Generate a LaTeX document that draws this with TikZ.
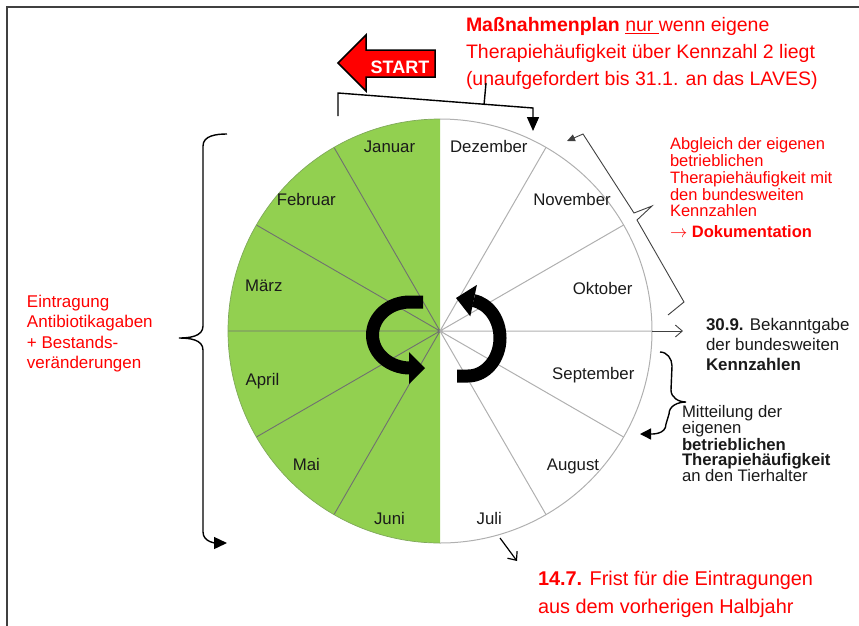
\documentclass[tikz,border=0pt]{standalone}
\usepackage{fontspec}
\setmainfont{Liberation Sans}
\usetikzlibrary{arrows.meta}

\definecolor{monthgreen}{HTML}{92D050}
\definecolor{edgegreen}{HTML}{7FA85A}
\definecolor{spokedark}{HTML}{707070}
\definecolor{spokelight}{HTML}{B0B0B0}
\definecolor{framegray}{HTML}{404040}
\definecolor{monthtext}{HTML}{1A1A1A}
\definecolor{labelred}{HTML}{FF0000}

\begin{document}
\begin{tikzpicture}[x=1pt, y=-1pt,
  every node/.style={inner sep=0pt, outer sep=0pt},
  month/.style={anchor=base, text=monthtext, font=\fontsize{16.8}{20}\selectfont},
  note/.style={anchor=base west, align=left},
  spokel/.style={draw=spokedark, line width=0.9pt},
  spoker/.style={draw=spokelight, line width=1pt},
  turn/.style={line width=13pt},
  bracket/.style={line width=1.4pt},
  thinbrace/.style={draw=framegray, line width=0.9pt},
  thinarrow/.style={draw=framegray, line width=0.9pt, -{Straight Barb[length=7pt,width=12pt]}}]
\useasboundingbox (0,0) rectangle (859,625);

% frame
\draw[framegray, line width=1.2pt] (7,640) -- (7,7) -- (870,7);

% year wheel
\coordinate (C) at (440,331);
\coordinate (rim) at (652,331);
\fill[monthgreen] (440,119) arc[start angle=-90, end angle=-270, radius=212] -- cycle;
\draw[spokel] (C) -- +(120:212) (C) -- +(150:212) (C) -- +(180:212) (C) -- +(210:212) (C) -- +(240:212);
\draw[spoker] (C) -- +(-60:212) (C) -- +(-30:212) (C) -- (rim) (C) -- +(30:212) (C) -- +(60:212);
\draw[edgegreen, line width=0.7pt] (440,119) arc[start angle=-90, end angle=-270, radius=212];
\draw[spoker] (440,119) arc[start angle=-90, end angle=90, radius=212];

\node[month] (jan) at (389.5,152.3) {Januar};
\node[month] (feb) at (306.3,205.3) {Februar};
\node[month] (mar) at (263.8,291) {März};
\node[month] (apr) at (262.5,385.7) {April};
\node[month] (mai) at (306.3,470.7) {Mai};
\node[month] (jun) at (389.5,524) {Juni};
\node[month] (jul) at (489.2,524) {Juli};
\node[month] (aug) at (573,470.7) {August};
\node[month] (sep) at (593.3,379.3) {September};
\node[month] (okt) at (602.7,294.3) {Oktober};
\node[month] (nov) at (572,205.3) {November};
\node[month] (dez) at (488.8,152.3) {Dezember};

% turning arrows in the middle
\draw[turn] (423,302) -- (410,302) arc[start angle=-90, end angle=-270, x radius=37.5, y radius=33];
\fill (409,352) -- (425,368) -- (409,384) -- cycle;
\draw[turn] (457,376) -- (468,376) arc[start angle=90, end angle=-80, x radius=32, y radius=38];
\fill (476.9,284.9) -- (456,298) -- (470.3,316.3) -- cycle;

% start arrow
\filldraw[fill=red, draw=black, line width=1.5pt] (338,63) -- (366,35) -- (366,50) -- (435,50) -- (435,77) -- (366,77) -- (366,91) -- cycle;
\node[anchor=base, text=white, font=\fontsize{18}{20}\selectfont\bfseries] (start) at (400,73.3) {START};

% top bracket
\node[note, text=labelred, font=\fontsize{19.5}{26.7}\selectfont] (plan) at (466,85) {\textbf{Maßnahmenplan} \underline{nur\ }wenn eigene\\Therapiehäufigkeit über Kennzahl 2 liegt\\(unaufgefordert bis 31.1. an das LAVES)};
\coordinate (brL) at (338,116);
\coordinate (brR) at (533,131);
\coordinate (stem) at (486,83);
\draw[bracket, -{Triangle[length=14pt,width=12pt]}] (brL) -- (338,93) -- (533,108) -- (brR);
\draw[bracket] (484,105) -- (stem);

% left brace
\node[note, text=labelred, font=\fontsize{17}{20.3}\selectfont] (eintrag) at (27,368.3) {Eintragung\\Antibiotikagaben\\+ Bestands-\\veränderungen};
\coordinate (lbtop) at (227,134);
\coordinate (lbend) at (227,543);
\draw[bracket, -{Triangle[length=13pt,width=12pt]}] (lbtop) to[out=180,in=90] (203,146) -- (203,326) to[out=-90,in=0] (179,338) to[out=0,in=90] (203,350) -- (203,532) to[out=-90,in=180] (lbend);

% right side
\node[note, text=labelred, font=\fontsize{16.5}{16.7}\selectfont] (abgleich) at (670,237.3) {Abgleich der eigenen\\betrieblichen\\Therapiehäufigkeit mit\\den bundesweiten\\Kennzahlen\\[3.9pt]$\rightarrow$ \textbf{Dokumentation}};
\coordinate (abtip) at (567,141);
\coordinate (abend) at (668,315);
\draw[thinbrace, {Triangle[length=8pt,width=7pt]}-] (abtip) -- (583,134) -- (634,213) -- (652,206) -- (637,220) -- (684,302) -- (abend);

\node[note, text=monthtext, font=\fontsize{16.9}{19.7}\selectfont] (bekannt) at (706,370) {\textbf{30.9.} Bekanntgabe\\der bundesweiten\\\textbf{Kennzahlen}};
\coordinate (bktip) at (683,331);
\draw[thinarrow] (rim) -- (bktip);

\node[note, text=monthtext, font=\fontsize{16.7}{14.8}\selectfont] (mitteil) at (682,481.7) {Mitteilung der\\eigenen\\\textbf{betrieblichen}\\\textbf{Therapiehäufigkeit}\\an den Tierhalter};
\coordinate (mbtop) at (660,352);
\coordinate (mbtip) at (640,434);
\draw[bracket, -{Triangle[length=11pt,width=11pt]}] (mbtop) to[out=0,in=90] (672,366) -- (671,390) to[out=-90,in=180] (686,402) to[out=180,in=90] (669,414) -- (666,424) to[out=-90,in=0] (mbtip);

% bottom
\node[note, text=labelred, font=\fontsize{19.9}{27.5}\selectfont] (frist) at (538,613.3) {\textbf{14.7.} Frist für die Eintragungen\\aus dem vorherigen Halbjahr};
\coordinate (jfrom) at (500,538);
\coordinate (jto) at (517,561);
\draw[thinarrow, draw=black, line width=1.2pt] (jfrom) -- (jto);
\end{tikzpicture}
\end{document}
